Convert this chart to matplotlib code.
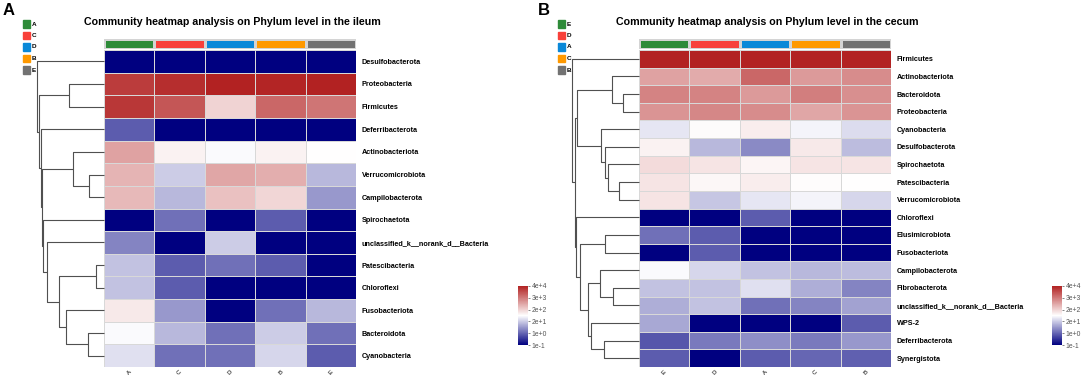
import numpy as np
import matplotlib
matplotlib.use('Agg')
import matplotlib.pyplot as plt
from matplotlib.colors import LinearSegmentedColormap, ListedColormap, Normalize
from matplotlib.patches import Rectangle

plt.rcParams['font.family'] = ['Liberation Sans', 'DejaVu Sans']

W, H = 1084, 375

# ---- data (colour-scale position 0..5, see colorbar labels) ----
ileum_groups = ['A', 'C', 'D', 'B', 'E']
ileum_phyla = ['Desulfobacterota', 'Proteobacteria', 'Firmicutes', 'Deferribacterota',
               'Actinobacteriota', 'Verrucomicrobiota', 'Campilobacterota', 'Spirochaetota',
               'unclassified_k__norank_d__Bacteria', 'Patescibacteria', 'Chloroflexi',
               'Fusobacteriota', 'Bacteroidota', 'Cyanobacteria']
ileum_values = [
    [0.0, 0.0, 0.0, 0.0, 0.0],
    [4.7, 4.85, 5.0, 4.95, 5.0],
    [4.75, 4.4, 3.0, 4.2, 4.05],
    [0.9, 0.0, 0.0, 0.0, 0.0],
    [3.55, 2.65, 2.45, 2.65, 2.5],
    [3.35, 2.0, 3.5, 3.4, 1.8],
    [3.3, 1.8, 3.2, 2.95, 1.5],
    [0.0, 1.1, 0.0, 0.9, 0.0],
    [1.3, 0.0, 2.0, 0.0, 0.0],
    [1.9, 0.9, 1.1, 0.9, 0.0],
    [1.9, 0.9, 0.0, 0.0, 0.0],
    [2.75, 1.5, 0.0, 1.1, 1.8],
    [2.45, 1.8, 1.1, 2.0, 1.1],
    [2.2, 1.1, 1.1, 2.1, 0.9],
]
# merges: (left, right, height); leaves 0..n-1, new nodes numbered from n
ileum_tree = [(5, 6, 0.22), (4, 14, 0.46), (9, 10, 0.12), (12, 13, 0.24),
              (11, 17, 0.57), (16, 18, 0.67), (8, 19, 0.85), (7, 20, 0.905),
              (15, 21, 0.93), (3, 22, 0.945), (1, 2, 0.52), (24, 23, 0.975),
              (0, 25, 1.0)]

cecum_groups = ['E', 'D', 'A', 'C', 'B']
cecum_phyla = ['Firmicutes', 'Actinobacteriota', 'Bacteroidota', 'Proteobacteria',
               'Cyanobacteria', 'Desulfobacterota', 'Spirochaetota', 'Patescibacteria',
               'Verrucomicrobiota', 'Chloroflexi', 'Elusimicrobiota', 'Fusobacteriota',
               'Campilobacterota', 'Fibrobacterota', 'unclassified_k__norank_d__Bacteria',
               'WPS-2', 'Deferribacterota', 'Synergistota']
cecum_values = [
    [5.0, 5.0, 5.0, 5.0, 5.0],
    [3.55, 3.45, 4.2, 3.65, 3.8],
    [3.9, 3.9, 3.65, 3.95, 3.75],
    [3.7, 3.85, 3.8, 3.5, 3.7],
    [2.25, 2.55, 2.7, 2.4, 2.15],
    [2.65, 1.8, 1.35, 2.75, 1.85],
    [2.9, 2.8, 2.6, 2.8, 2.8],
    [2.8, 2.58, 2.7, 2.52, 2.5],
    [2.8, 1.95, 2.25, 2.4, 2.1],
    [0.0, 0.0, 0.9, 0.0, 0.0],
    [1.1, 0.9, 0.0, 0.0, 0.0],
    [0.0, 0.9, 0.0, 0.0, 0.0],
    [2.45, 2.1, 1.9, 1.8, 1.85],
    [1.9, 1.9, 2.2, 1.7, 1.3],
    [1.7, 1.9, 1.1, 1.3, 1.6],
    [1.65, 0.0, 0.0, 0.0, 0.9],
    [0.85, 1.2, 1.4, 1.2, 1.5],
    [0.9, 0.0, 0.9, 1.0, 0.95],
]
cecum_tree = [(2, 3, 0.244), (1, 18, 0.409), (7, 8, 0.295), (6, 20, 0.46),
              (5, 21, 0.51), (4, 22, 0.57), (19, 23, 0.919), (10, 11, 0.51),
              (13, 14, 0.385), (12, 26, 0.585), (16, 17, 0.52), (15, 28, 0.709),
              (27, 29, 0.76), (25, 30, 0.885), (9, 31, 0.934), (24, 32, 0.96),
              (0, 33, 1.0)]

cbar_ticks = [0, 1, 2, 3, 4, 5]
cbar_labels = ['1e-1', '1e+0', '2e+1', '2e+2', '3e+3', '4e+4']
group_colors = ['#2e8b39', '#f8403a', '#0a88d8', '#ff9900', '#727272']

cmap = LinearSegmentedColormap.from_list('nwr', ['#000080', '#ffffff', '#b22222'])
norm = Normalize(0, 5)

fig = plt.figure(figsize=(W / 100, H / 100), dpi=100)


def px_axes(x0, y0, x1, y1):
    return fig.add_axes([x0 / W, 1 - y1 / H, (x1 - x0) / W, (y1 - y0) / H])


def draw_tree(ax, merges, n):
    ys = {i: i + 0.5 for i in range(n)}
    hs = {i: 0.0 for i in range(n)}
    for k, (a, b, h) in enumerate(merges):
        ax.plot([hs[a], h, h, hs[b]], [ys[a], ys[a], ys[b], ys[b]],
                color='#505050', lw=0.8, clip_on=False, solid_capstyle='butt')
        ys[n + k] = (ys[a] + ys[b]) / 2
        hs[n + k] = h
    ax.set_xlim(1, 0)
    ax.set_ylim(n, 0)
    ax.axis('off')


def panel(x0, letter, title, groups, phyla, values, tree, hm_x, tree_x, cb_x):
    n = len(phyla)
    vals = np.array(values)
    fig.text(x0 / W, 1 - 3 / H, letter, fontsize=12, fontweight='bold', va='top', ha='left')
    fig.text(((hm_x[0] + hm_x[1]) / 2 + 2) / W, 1 - 22 / H, title, fontsize=7.7,
             fontweight='bold', ha='center', va='center')
    # group legend
    for i, g in enumerate(groups):
        y = 24 + i * 11.5
        fig.patches.append(Rectangle(((x0 + 20) / W, 1 - (y + 3.5) / H), 7 / W, 7 / H,
                                     transform=fig.transFigure, color=group_colors[i]))
        fig.text((x0 + 28.5) / W, 1 - y / H, g, fontsize=4.6, fontweight='bold', va='center')
    # group colour bar
    gax = px_axes(hm_x[0], 39, hm_x[1], 49)
    gax.pcolormesh(np.arange(6), [0, 1], np.arange(5)[None, :], cmap=ListedColormap(group_colors),
                   edgecolors='#d4d4d4', linewidth=0.8)
    gax.axis('off')
    # heatmap
    ax = px_axes(hm_x[0], 50, hm_x[1], 367)
    mesh = ax.pcolormesh(np.arange(6), np.arange(n + 1), vals, cmap=cmap, norm=norm,
                         edgecolors='#d8d8d8', linewidth=0.7)
    ax.set_ylim(n, 0)
    ax.set_xlim(0, 5)
    for s in ax.spines.values():
        s.set_visible(False)
    ax.yaxis.tick_right()
    ax.set_yticks(np.arange(n) + 0.5)
    ax.set_yticklabels(phyla, fontsize=5.2, fontweight='bold')
    ax.set_xticks(np.arange(5) + 0.5)
    ax.set_xticklabels(groups, fontsize=4.4, rotation=45, ha='center', va='top')
    ax.tick_params(axis='y', length=0, pad=4)
    ax.tick_params(axis='x', length=0, pad=1.5)
    # dendrogram
    dax = px_axes(tree_x, 50, hm_x[0], 367)
    draw_tree(dax, tree, n)
    # colorbar
    cax = px_axes(cb_x, 286, cb_x + 10, 345)
    cb = fig.colorbar(mesh, cax=cax, ticks=cbar_ticks)
    cb.set_ticklabels(cbar_labels)
    cb.outline.set_visible(False)
    cax.tick_params(length=1.5, width=0.5, labelsize=4.9, colors='#555555', pad=1)


panel(3, 'A', 'Community heatmap analysis on Phylum level in the ileum',
      ileum_groups, ileum_phyla, ileum_values, ileum_tree, (104, 356), 37, 518)
panel(538, 'B', 'Community heatmap analysis on Phylum level in the cecum',
      cecum_groups, cecum_phyla, cecum_values, cecum_tree, (639, 891), 572, 1052)

fig.savefig('out.png', dpi=100)
